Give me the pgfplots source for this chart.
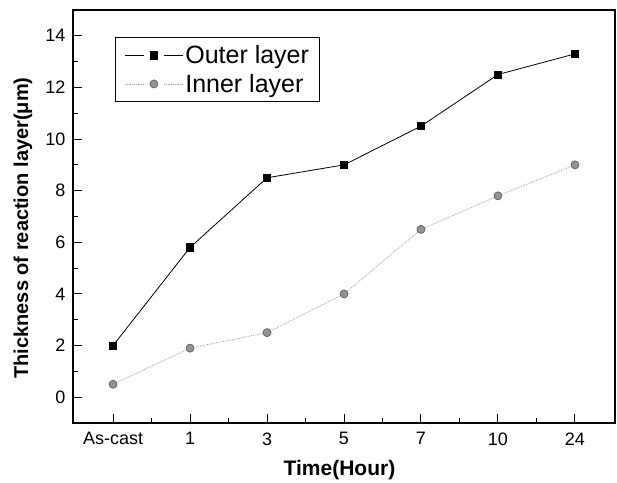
\documentclass[border=0pt]{standalone}
\usepackage{fontspec}
\setmainfont{Liberation Sans}
\usepackage{pgfplots}
\pgfplotsset{compat=1.18}
\usetikzlibrary{calc}

\begin{document}
\begin{tikzpicture}
\begin{axis}[
  scale only axis, width=542pt, height=413pt,
  xmin=-0.52, xmax=6.52, ymin=-1, ymax=15,
  xtick={0,...,6}, xticklabels={As-cast,1,3,5,7,10,24},
  ytick={0,2,...,14},
  minor x tick num=1, minor y tick num=1,
  tick pos=left, tick align=inside,
  major tick length=9pt, minor tick length=5pt,
  axis line style={line width=1.3pt},
  every tick/.style={black, line width=1pt},
  /pgf/number format/assume math mode=true,
  tick label style={font=\fontsize{18}{20}\selectfont},
  xticklabel style={yshift=-6pt},
  yticklabel style={xshift=-4pt},
  xlabel={Time(Hour)},
  ylabel={Thickness of reaction layer(μm)},
  xlabel style={font=\fontsize{21}{24}\selectfont\bfseries,
    at={(axis description cs:0.4917,-0.1138)}, anchor=center},
  ylabel style={font=\fontsize{20}{24}\selectfont\bfseries,
    at={(axis description cs:-0.0923,0.472)}, anchor=center},
  legend style={at={(0.0775,0.9346)}, anchor=north west,
    font=\fontsize{25}{30}\selectfont, draw=black, line width=1pt,
    inner xsep=9pt, inner ysep=6pt, row sep=5pt,
    nodes={inner sep=2pt},
    /tikz/every even column/.append style={column sep=7pt}},
  legend cell align=left,
  legend image code/.code={
    \draw (0pt,0pt)--(19pt,0pt);
    \draw (39pt,0pt)--(58pt,0pt);
    \draw plot coordinates {(29pt,0pt)};},
]
\addplot[black, line width=0.8pt, mark=square*, mark size=3.6pt]
  coordinates {(0,2)(1,5.8)(2,8.5)(3,9)(4,10.5)(5,12.5)(6,13.3)};
\addlegendentry{Outer layer}
\addplot[gray!75, line width=0.8pt, densely dotted, mark=*, mark size=4pt,
  mark options={solid, fill=gray!85, draw=gray!80!black}]
  coordinates {(0,0.5)(1,1.9)(2,2.5)(3,4.0)(4,6.5)(5,7.8)(6,9.0)};
\addlegendentry{Inner layer}
\end{axis}
\pgfresetboundingbox
\path[use as bounding box] ($(current axis.south west)+(-73pt,-60pt)$)
  rectangle ($(current axis.north east)+(2pt,10pt)$);
\end{tikzpicture}
\end{document}
